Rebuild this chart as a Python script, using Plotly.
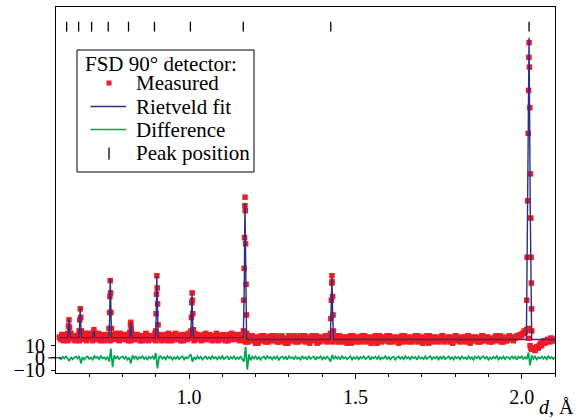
import numpy as np
import plotly.graph_objects as go

# ---------------- data ----------------
# regular d-grid of the measured / difference profile
D_START = 0.610
D_STEP = 0.005
D_START2 = 0.6125   # second (interleaved) set of measured points

# measured background band, 0.610 .. 1.160
MEAS_LEFT = [
    17, 15, 19, 16, 18, 14, 17, 20, 16, 15,
    18, 17, 14, 19, 16, 17, 15, 18, 20, 16,
    14, 17, 19, 15, 16, 18, 17, 14, 16, 19,
    17, 15, 18, 16, 20, 17, 14, 16, 18, 15,
    19, 17, 16, 14, 18, 17, 15, 19, 16, 18,
    14, 17, 20, 16, 15, 18, 17, 16, 14, 19,
    16, 18, 15, 17, 19, 14, 16, 18, 17, 15,
    20, 16, 17, 14, 18, 16, 19, 15, 17, 16,
    18, 14, 17, 19, 16, 15, 18, 17, 20, 16,
    15, 17, 14, 18, 16, 19, 17, 15, 16, 18,
    14, 17, 19, 16, 15, 18, 17, 16, 19, 15,
    17,
]
# measured background band, 1.165 .. 2.100
MEAS_RIGHT = [
    15, 13, 17, 16, 14, 18, 15, 12, 16, 17,
    14, 16, 18, 13, 15, 17, 14, 16, 15, 18,
    13, 16, 14, 17, 15, 12, 16, 18, 14, 15,
    17, 13, 16, 15, 18, 14, 16, 13, 17, 15,
    14, 18, 15, 16, 12, 17, 15, 14, 16, 18,
    13, 15, 17, 14, 16, 15, 18, 13, 16, 14,
    17, 15, 12, 16, 18, 14, 15, 17, 13, 16,
    15, 18, 14, 16, 13, 17, 15, 16, 14, 18,
    12, 15, 17, 16, 14, 15, 18, 13, 16, 15,
    17, 14, 16, 12, 15, 18, 14, 16, 17, 13,
    15, 16, 14, 18, 15, 13, 17, 16, 14, 15,
    18, 12, 16, 15, 17, 14, 16, 13, 15, 18,
    14, 16, 15, 17, 13, 16, 14, 18, 15, 16,
    13, 17, 15, 14, 16, 18, 12, 15, 17, 14,
    16, 15, 13, 18, 16, 14, 17, 15, 16, 13,
    15, 17, 14, 16, 18, 15, 13, 16, 14, 17,
    15, 16, 14,
    16, 18, 17, 19, 18, 20, 21, 23, 24, 10,
    7, 8, 6, 9, 8, 11, 10, 13, 12, 14,
    15, 13, 16, 14, 15,
]
# interleaved measured points, 0.6125 .. 1.1575
MEAS_LEFT2 = [
    16, 19, 14, 18, 17, 15, 20, 16, 18, 14,
    17, 19, 16, 15, 18, 20, 14, 17, 16, 19,
    15, 18, 16, 20, 14, 17, 19, 15, 18, 16,
    14, 19, 17, 15, 18, 16, 20, 15, 17, 19,
    16, 14, 18, 20, 15, 16, 19, 17, 14, 18,
    17, 15, 19, 14, 18, 16, 15, 20, 17, 16,
    19, 14, 17, 18, 15, 20, 16, 14, 19, 17,
    15, 18, 16, 19, 14, 17, 15, 20, 16, 18,
    17, 20, 15, 16, 18, 14, 19, 16, 15, 17,
    19, 16, 18, 15, 20, 14, 16, 18, 19, 15,
    17, 14, 16, 20, 18, 15, 19, 17, 14, 16,
]
# interleaved measured points, 1.1625 .. 2.0975
MEAS_RIGHT2 = [
    17, 14, 16, 13, 18, 15, 16, 14, 17, 12,
    16, 18, 14, 15, 17, 13, 16, 18, 14, 16,
    15, 17, 13, 18, 16, 14, 15, 12, 17, 16,
    14, 18, 15, 13, 16, 17, 14, 18, 15, 16,
    12, 15, 17, 14, 18, 16, 13, 15, 17, 14,
    16, 18, 14, 15, 13, 17, 16, 14, 18, 15,
    13, 16, 17, 14, 15, 12, 18, 16, 14, 15,
    17, 13, 16, 18, 15, 14, 16, 12, 17, 15,
    16, 14, 18, 13, 15, 17, 14, 16, 18, 15,
    13, 16, 15, 17, 14, 16, 13, 18, 15, 14,
    16, 17, 13, 15, 16, 18, 14, 15, 12, 17,
    15, 14, 18, 16, 13, 15, 17, 14, 16, 15,
    18, 13, 16, 14, 17, 15, 12, 16, 18, 14,
    15, 16, 14, 17, 13, 18, 15, 16, 14, 15,
    17, 13, 16, 15, 18, 14, 16, 17, 13, 15,
    16, 14, 18, 15, 16, 13, 17, 15, 14, 16,
    18, 15, 17,
    16, 17, 18, 18, 19, 20, 22, 22, 23, 16,
    8, 7, 7, 8, 9, 10, 12, 12, 14, 13,
    15, 14, 16, 15, 14,
]

# measured points on the Bragg peaks
PEAK_MEAS_D = [
    0.6355, 0.6375, 0.639, 0.6405, 0.6425,
    0.6695, 0.6715, 0.673, 0.6745, 0.6765,
    0.7115, 0.714, 0.7165,
    0.7595, 0.7610, 0.7620, 0.7630, 0.7640, 0.7652, 0.7665,
    0.8220, 0.8238, 0.825, 0.8262, 0.8280,
    0.8995, 0.9010, 0.9020, 0.9032, 0.9042, 0.9055, 0.9068,
    1.0055, 1.0070, 1.0082, 1.0092, 1.0100, 1.0112, 1.0128,
    1.1633, 1.1644, 1.1656, 1.1667, 1.1679, 1.1682, 1.1690, 1.1700, 1.1713, 1.1724, 1.1732,
    1.4250, 1.4262, 1.4277, 1.4291, 1.4295, 1.4302, 1.4315, 1.4328, 1.4340,
    2.0150, 2.0162, 2.0177, 2.0195, 2.0206, 2.0215, 2.0220,
    2.0232, 2.0243, 2.0260, 2.0272, 2.0282, 2.0289, 2.0296, 2.0302,
]
PEAK_MEAS_Y = [
    20, 26, 31, 25, 19,
    22, 31, 40, 33, 22,
    20, 23, 20,
    24, 37, 50, 63, 53, 37, 24,
    21, 27, 29, 24, 19,
    22, 36, 52, 67, 57, 44, 27,
    22, 33, 45, 53, 47, 36, 23,
    22, 47, 73, 98, 124, 131, 120, 93, 60, 35, 20,
    20, 32, 47, 61, 67, 62, 50, 35, 22,
    47, 82, 128, 183, 218, 245, 257,
    237, 204, 150, 114, 82, 61, 40, 22,
]

# Rietveld fit profile
FIT_D = [
    0.610,
    0.6345, 0.6375, 0.639, 0.6405, 0.6435,
    0.6690, 0.6715, 0.673, 0.6745, 0.6770,
    0.7110, 0.7125, 0.7155, 0.7170,
    0.7590, 0.7615, 0.763, 0.7645, 0.7670,
    0.8215, 0.8235, 0.825, 0.8265, 0.8285,
    0.8990, 0.9015, 0.903, 0.9045, 0.9070,
    1.0050, 1.0075, 1.009, 1.0105, 1.0130,
    1.1630, 1.1660, 1.168, 1.1700, 1.1730,
    1.4245, 1.4275, 1.4295, 1.4315, 1.4345,
    2.0140, 2.0185, 2.022, 2.0255, 2.0300,
    2.100,
]
FIT_Y = [
    16.5,
    16.5, 23, 31, 23, 16.5,
    16.5, 27, 40.5, 27, 16.5,
    16.5, 21, 21, 16.5,
    16.5, 35, 65, 35, 16.5,
    16.5, 22, 29, 22, 16.5,
    16.5, 36, 67, 36, 16.5,
    16.5, 31, 52, 31, 16.5,
    16.5, 60, 126, 60, 15,
    15, 36, 65.5, 36, 15,
    15, 125, 261, 125, 15,
    15,
]

# difference (measured - fit), same grid as the measured band
DIFF = [
    0.6, -1.1, 0.9, -0.4, 1.3, -0.8, -2.5, 0.7, -1.2, 0.4,
    1.1, -0.6, 1.5, -4.5, 0.8, -1.3, 0.5, 1.2, -0.9, 0.3,
    -1.4, 1.5, -0.2, 0.9, -1.1, 1.4, -0.5, 0.6, -1.3, 1.0,
    -3.0, 7.5, -7.5, 2.0, -0.8, 1.2, -1.0, 0.5, 1.3, -0.7,
    0.9, -1.4, 0.4, -4.5, 2.0, -0.6, 1.1, -1.2, 0.7, -0.3,
    1.4, -0.9, 0.6, -1.3, 1.0, -0.4, 1.2, -1.1, 4.0, -8.5,
    1.0, 1.3, -0.7, 0.8, -1.2, 1.5, -0.3, 0.9, -1.4, 0.6,
    -0.8, 1.2, -1.0, 0.4, 1.4, -1.3, 0.7, -0.5, 1.1, 3.0,
    -3.0, 0.8, -1.2, 1.3, -0.6, 0.9, -1.5, 0.5, 1.2, -0.9,
    0.7, -1.1, 1.4, -0.4, 0.8, -1.3, 1.0, -0.7, 1.5, -1.0,
    0.3, 1.2, -1.4, 0.9, -0.5, 1.3, -1.1, 0.6, -0.8, 1.4,
    -1.2, -3.0, 9.0, -9.5, 3.0, -2.0, 1.1, -0.6, 1.3, -1.0,
    0.8, -1.4, 0.5, 1.2, -0.9, 1.5, -0.3, 0.7, -1.2, 1.0,
    -0.6, 1.3, -1.5, 0.4, 1.1, -0.8, 0.9, -1.3, 1.4, -0.2,
    0.6, -1.0, 1.2, -0.7, 0.3, -1.4, 1.5, -0.5, 0.8, -1.1,
    1.3, -0.9, 0.4, 1.0, -1.5, 0.7, -0.3, 1.4, -1.2, 0.6,
    -0.8, 1.1, -0.4, -3.0, 2.5, -1.0, 1.2, -0.6, 0.9, -1.3,
    1.5, -0.5, 0.8, -1.1, 0.3, 1.3, -1.4, 0.6, -0.7, 1.0,
    -1.2, 0.9, -0.3, 1.4, -1.0, 0.5, 1.2, -1.5, 0.7, -0.4,
    1.1, -0.8, 1.3, -1.2, 0.4, -0.6, 1.5, -0.9, 0.8, -1.3,
    0.6, 1.0, -1.4, 0.3, 1.2, -0.7, 0.9, -1.1, 1.4, -0.5,
    0.7, -1.3, 1.1, -0.2, 0.8, -1.5, 1.3, -0.6, 0.4, -1.0,
    1.2, -0.8, 0.5, 1.4, -1.2, 0.6, -0.4, 1.0, -1.3, 0.9,
    -0.7, 1.5, -1.1, 0.3, 1.2, -0.9, 0.7, -1.4, 1.1, -0.3,
    0.8, -1.2, 1.3, -0.5, 0.4, -1.0, 1.4, -0.8, 0.6, -1.5,
    1.0, -0.3, 1.2, -1.1, 0.7, 1.3, -0.6, 0.9, -1.4, 0.5,
    -0.9, 1.1, -0.4, 1.4, -1.3, 0.6, -0.7, 1.2, -1.0, 0.8,
    0.3, -1.2, 1.5, -0.6, 0.9, -1.4, 1.0, -0.2, 1.3, -0.9,
    0.7, -1.1, 4.5, -6.0, 2.0, -0.8, 1.2, -1.3, 0.6, -0.5,
    1.1, -0.7, 0.9, -1.2, 1.4, -0.4, 0.8, -1.0, 0.5,
]

# Bragg peak positions (tick marks at the top)
PEAK_POS = [0.632, 0.668, 0.707, 0.757, 0.818, 0.896, 1.004, 1.163, 1.426, 2.022]
TICK_LEVEL = 270

X_TICKS = [1.0, 1.5, 2.0]
X_TICK_TEXT = ["1.0", "1.5", "2.0"]
X_MINOR = [0.7, 0.8, 0.9, 1.1, 1.2, 1.3, 1.4, 1.6, 1.7, 1.8, 1.9, 2.1]
Y_TICKS = [-10, 0, 10]
Y_TICK_TEXT = ["\u221210", "0", "10"]

LEGEND_TITLE = "FSD 90° detector:"
LEGEND_NAMES = ["Measured", "Rietveld fit", "Difference", "Peak position"]

# ---------------- figure ----------------
meas_base = MEAS_LEFT + MEAS_RIGHT
grid = D_START + D_STEP * np.arange(len(meas_base))
meas_base2 = MEAS_LEFT2 + MEAS_RIGHT2
grid2 = D_START2 + D_STEP * np.arange(len(meas_base2))
meas_d = np.concatenate([grid, grid2, PEAK_MEAS_D])
meas_y = np.concatenate([meas_base, meas_base2, PEAK_MEAS_Y])

RED = "#ee1c25"
BLUE = "#2b2f86"
GREEN = "#00a651"
FONT = "Liberation Serif"

fig = go.Figure()
fig.add_trace(go.Scatter(
    x=meas_d, y=meas_y, mode="markers", name=LEGEND_NAMES[0],
    marker=dict(symbol="square", size=5.5, color=RED, line=dict(width=0)),
))
fig.add_trace(go.Scatter(
    x=FIT_D, y=FIT_Y, mode="lines", name=LEGEND_NAMES[1],
    line=dict(color=BLUE, width=1.4),
))
fig.add_trace(go.Scatter(
    x=grid, y=DIFF, mode="lines", name=LEGEND_NAMES[2],
    line=dict(color=GREEN, width=1.7),
))
fig.add_trace(go.Scatter(
    x=PEAK_POS, y=[TICK_LEVEL] * len(PEAK_POS), mode="markers", name=LEGEND_NAMES[3],
    marker=dict(symbol="line-ns", size=7, color="black", line=dict(width=1.3, color="black")),
))

fig.update_layout(
    width=577, height=420,
    margin=dict(l=56, r=22, t=7, b=47),
    paper_bgcolor="white", plot_bgcolor="white",
    font=dict(family=FONT, size=20, color="black"),
    showlegend=False,
    xaxis=dict(
        range=[0.6, 2.1], showgrid=False, zeroline=False,
        showline=True, linecolor="black", linewidth=1.2, mirror=True,
        ticks="outside", ticklen=5, tickwidth=1, tickcolor="black",
        tickvals=X_TICKS, ticktext=X_TICK_TEXT, ticklabelstandoff=1,
        minor=dict(tickvals=X_MINOR, ticks="outside", ticklen=3, tickwidth=1, tickcolor="black"),
    ),
    yaxis=dict(
        range=[-12.3, 286], showgrid=False, zeroline=False,
        showline=True, linecolor="black", linewidth=1.2, mirror=True,
        ticks="outside", ticklen=4, tickwidth=1, tickcolor="black",
        tickvals=Y_TICKS, ticktext=Y_TICK_TEXT, ticklabelstandoff=2,
    ),
)

# short crossing tick at zero
fig.add_shape(type="line", xref="paper", yref="y", x0=-0.016, x1=0.01, y0=0, y1=0,
              line=dict(color="black", width=1))

# ---- legend box (drawn as layout decoration so its line spacing matches) ----
def px_x(p):
    return (p - 56) / 499.0

def px_y(p):
    return (373 - p) / 366.0

fig.add_shape(type="rect", xref="paper", yref="paper",
              x0=px_x(77), x1=px_x(254), y0=px_y(172), y1=px_y(50),
              line=dict(color="black", width=1), fillcolor="white", layer="above")
fig.add_annotation(text=LEGEND_TITLE, xref="paper", yref="paper",
                   x=px_x(83), y=px_y(64), xanchor="left", yanchor="middle",
                   showarrow=False, font=dict(family=FONT, size=21, color="black"))
item_y = [83.5, 106.5, 129.5, 153.5]
for name, yy in zip(LEGEND_NAMES, item_y):
    fig.add_annotation(text=name, xref="paper", yref="paper",
                       x=px_x(134), y=px_y(yy), xanchor="left", yanchor="middle",
                       showarrow=False, font=dict(family=FONT, size=21, color="black"))
# legend glyphs
fig.add_shape(type="rect", xref="paper", yref="paper",
              x0=px_x(106.5), x1=px_x(111.5), y0=px_y(85.5), y1=px_y(80.5),
              line=dict(width=0), fillcolor=RED, layer="above")
fig.add_shape(type="line", xref="paper", yref="paper",
              x0=px_x(90.5), x1=px_x(126), y0=px_y(item_y[1]), y1=px_y(item_y[1]),
              line=dict(color=BLUE, width=1.4), layer="above")
fig.add_shape(type="line", xref="paper", yref="paper",
              x0=px_x(90.5), x1=px_x(126), y0=px_y(item_y[2]), y1=px_y(item_y[2]),
              line=dict(color=GREEN, width=1.4), layer="above")
fig.add_shape(type="line", xref="paper", yref="paper",
              x0=px_x(109), x1=px_x(109), y0=px_y(159.5), y1=px_y(147.5),
              line=dict(color="black", width=1.3), layer="above")

fig.add_annotation(
    text="<i>d</i>, Å", xref="paper", yref="paper", x=px_x(556), y=px_y(407),
    xanchor="center", yanchor="middle", showarrow=False,
    font=dict(family=FONT, size=20, color="black"),
)

fig.write_html("out.html",
               config={"displayModeBar": False},
               post_script="document.body.style.margin='0';document.body.style.overflow='hidden';")
